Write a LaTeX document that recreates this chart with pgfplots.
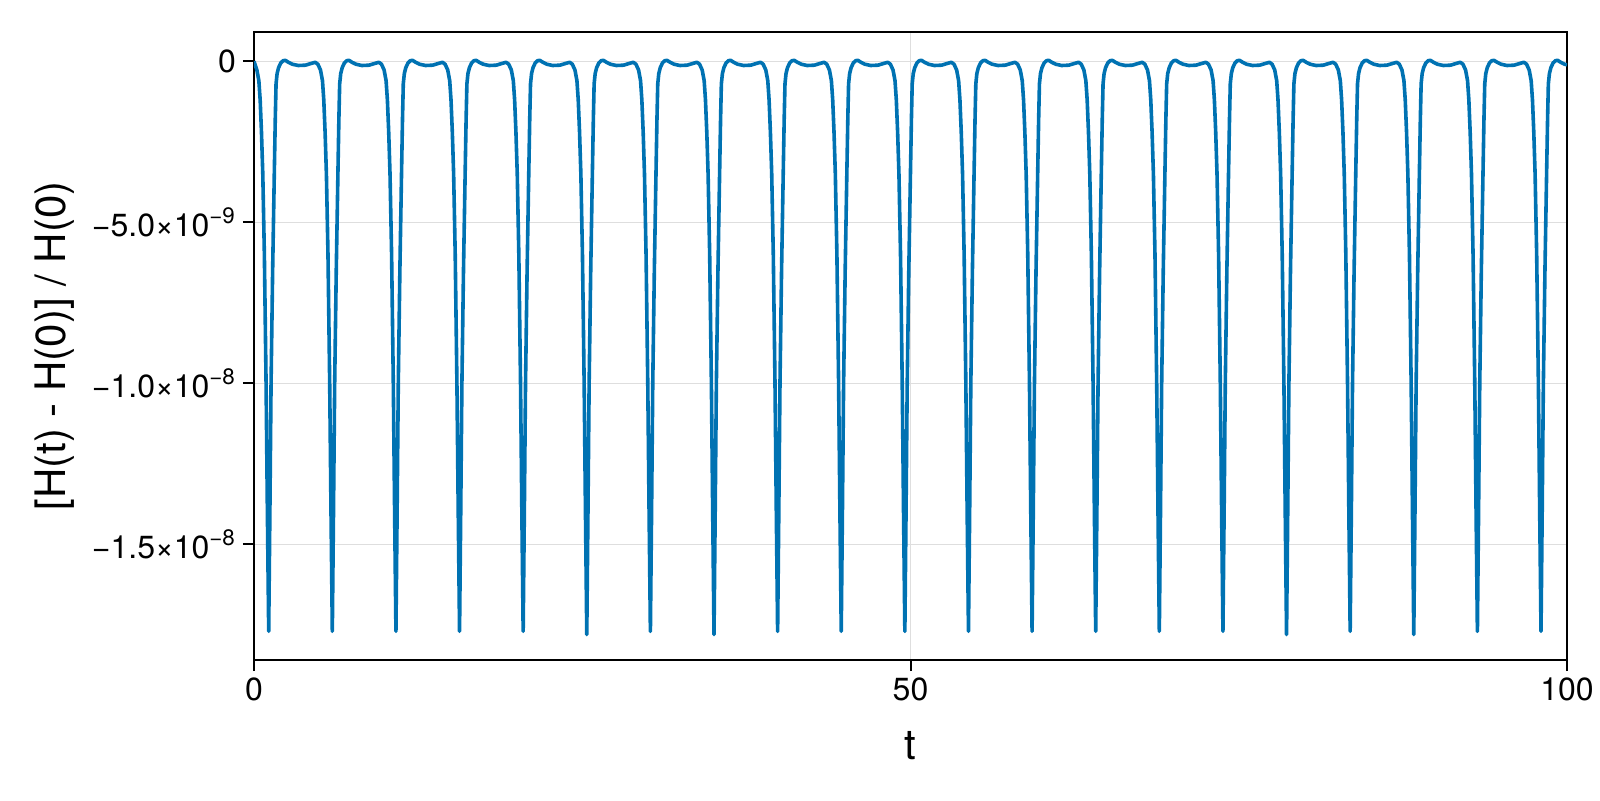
\documentclass[border=0pt]{standalone}
\usepackage{fontspec}
\setmainfont{TeX Gyre Heros}
\usepackage{pgfplots}
\pgfplotsset{compat=1.18}
\definecolor{wongblue}{RGB}{0,114,178}
\definecolor{gridc}{RGB}{222,222,222}
\begin{document}
\begin{tikzpicture}
\path[use as bounding box] (-127pt,-70pt) rectangle (673pt,330pt);
\begin{axis}[
  at={(0,0)}, anchor=south west,
  scale only axis, width=656.5pt, height=314pt,
  xmin=0, xmax=100, ymin=-18.59, ymax=0.91,
  xtick={0,50,100}, xticklabels={0,50,100},
  ytick={-15,-10,-5,0},
  yticklabels={−1.5×10\textsuperscript{−8},−1.0×10\textsuperscript{−8},−5.0×10\textsuperscript{−9},0},
  tick pos=left, tick align=outside,
  major tick length=5.5pt,
  tick style={black, line width=1pt},
  axis line style={black, line width=1pt},
  grid=major, major grid style={gridc, line width=0.6pt},
  tick label style={font=\fontsize{16}{19}\selectfont},
  xlabel={t}, ylabel={[H(t) - H(0)] / H(0)},
  xlabel style={at={(axis description cs:0.5,0)}, anchor=center, yshift=-43pt, font=\fontsize{21}{25}\selectfont},
  ylabel style={at={(axis description cs:-0.1516,0.5)}, anchor=center, font=\fontsize{21}{25}\selectfont},
]
\addplot[wongblue, line width=1.8pt, line join=round] table {
x y
0 0
0.22 -0.27
0.37 -0.6
0.47 -1.2
0.57 -2.2
0.67 -3.5
0.79 -6.0
0.92 -10
1.02 -14
1.12 -17.7
1.21 -14
1.30 -10
1.42 -6.5
1.55 -3.4
1.62 -1.8
1.68 -0.7
1.76 -0.38
1.87 -0.2
2.04 -0.05
2.22 0.02
2.39 0.03
2.62 -0.03
2.92 -0.09
3.37 -0.13
3.92 -0.12
4.32 -0.07
4.665 -0.03
4.865 -0.09
5.065 -0.27
5.215 -0.6
5.315 -1.2
5.415 -2.2
5.515 -3.5
5.635 -6.0
5.765 -10
5.865 -14
5.965 -17.7
6.055 -14
6.145 -10
6.265 -6.5
6.395 -3.4
6.465 -1.8
6.525 -0.7
6.605 -0.38
6.715 -0.2
6.885 -0.05
7.065 0.02
7.235 0.03
7.465 -0.03
7.765 -0.09
8.215 -0.13
8.765 -0.12
9.165 -0.07
9.51 -0.03
9.71 -0.09
9.91 -0.27
10.06 -0.6
10.16 -1.2
10.26 -2.2
10.36 -3.5
10.48 -6.0
10.61 -10
10.71 -14
10.81 -17.7
10.90 -14
10.99 -10
11.11 -6.5
11.24 -3.4
11.31 -1.8
11.37 -0.7
11.45 -0.38
11.56 -0.2
11.73 -0.05
11.91 0.02
12.08 0.03
12.31 -0.03
12.61 -0.09
13.06 -0.13
13.61 -0.12
14.01 -0.07
14.355 -0.03
14.555 -0.09
14.755 -0.27
14.905 -0.6
15.005 -1.2
15.105 -2.2
15.205 -3.5
15.325 -6.0
15.455 -10
15.555 -14
15.655 -17.7
15.745 -14
15.835 -10
15.955 -6.5
16.085 -3.4
16.155 -1.8
16.215 -0.7
16.295 -0.38
16.405 -0.2
16.575 -0.05
16.755 0.02
16.925 0.03
17.155 -0.03
17.455 -0.09
17.905 -0.13
18.455 -0.12
18.855 -0.07
19.2 -0.03
19.4 -0.09
19.6 -0.27
19.75 -0.6
19.85 -1.2
19.95 -2.2
20.05 -3.5
20.17 -6.0
20.3 -10
20.4 -14
20.5 -17.7
20.59 -14
20.68 -10
20.8 -6.5
20.93 -3.4
21.0 -1.8
21.06 -0.7
21.14 -0.38
21.25 -0.2
21.42 -0.05
21.6 0.02
21.77 0.03
22.0 -0.03
22.3 -0.09
22.75 -0.13
23.3 -0.12
23.7 -0.07
24.045 -0.03
24.245 -0.09
24.445 -0.27
24.595 -0.6
24.695 -1.2
24.795 -2.2
24.895 -3.5
25.015 -6.0
25.145 -10
25.245 -14
25.345 -17.8
25.435 -14
25.525 -10
25.645 -6.5
25.775 -3.4
25.845 -1.8
25.905 -0.7
25.985 -0.38
26.095 -0.2
26.265 -0.05
26.445 0.02
26.615 0.03
26.845 -0.03
27.145 -0.09
27.595 -0.13
28.145 -0.12
28.545 -0.07
28.89 -0.03
29.09 -0.09
29.29 -0.27
29.44 -0.6
29.54 -1.2
29.64 -2.2
29.74 -3.5
29.86 -6.0
29.99 -10
30.09 -14
30.19 -17.7
30.28 -14
30.37 -10
30.49 -6.5
30.62 -3.4
30.69 -1.8
30.75 -0.7
30.83 -0.38
30.94 -0.2
31.11 -0.05
31.29 0.02
31.46 0.03
31.69 -0.03
31.99 -0.09
32.44 -0.13
32.99 -0.12
33.39 -0.07
33.735 -0.03
33.935 -0.09
34.135 -0.27
34.285 -0.6
34.385 -1.2
34.485 -2.2
34.585 -3.5
34.705 -6.0
34.835 -10
34.935 -14
35.035 -17.8
35.125 -14
35.215 -10
35.335 -6.5
35.465 -3.4
35.535 -1.8
35.595 -0.7
35.675 -0.38
35.785 -0.2
35.955 -0.05
36.135 0.02
36.305 0.03
36.535 -0.03
36.835 -0.09
37.285 -0.13
37.835 -0.12
38.235 -0.07
38.58 -0.03
38.78 -0.09
38.98 -0.27
39.13 -0.6
39.23 -1.2
39.33 -2.2
39.43 -3.5
39.55 -6.0
39.68 -10
39.78 -14
39.88 -17.7
39.97 -14
40.06 -10
40.18 -6.5
40.31 -3.4
40.38 -1.8
40.44 -0.7
40.52 -0.38
40.63 -0.2
40.8 -0.05
40.98 0.02
41.15 0.03
41.38 -0.03
41.68 -0.09
42.13 -0.13
42.68 -0.12
43.08 -0.07
43.425 -0.03
43.625 -0.09
43.825 -0.27
43.975 -0.6
44.075 -1.2
44.175 -2.2
44.275 -3.5
44.395 -6.0
44.525 -10
44.625 -14
44.725 -17.7
44.815 -14
44.905 -10
45.025 -6.5
45.155 -3.4
45.225 -1.8
45.285 -0.7
45.365 -0.38
45.475 -0.2
45.645 -0.05
45.825 0.02
45.995 0.03
46.225 -0.03
46.525 -0.09
46.975 -0.13
47.525 -0.12
47.925 -0.07
48.27 -0.03
48.47 -0.09
48.67 -0.27
48.82 -0.6
48.92 -1.2
49.02 -2.2
49.12 -3.5
49.24 -6.0
49.37 -10
49.47 -14
49.57 -17.7
49.66 -14
49.75 -10
49.87 -6.5
50.0 -3.4
50.07 -1.8
50.13 -0.7
50.21 -0.38
50.32 -0.2
50.49 -0.05
50.67 0.02
50.84 0.03
51.07 -0.03
51.37 -0.09
51.82 -0.13
52.37 -0.12
52.77 -0.07
53.115 -0.03
53.315 -0.09
53.515 -0.27
53.665 -0.6
53.765 -1.2
53.865 -2.2
53.965 -3.5
54.085 -6.0
54.215 -10
54.315 -14
54.415 -17.7
54.505 -14
54.595 -10
54.715 -6.5
54.845 -3.4
54.915 -1.8
54.975 -0.7
55.055 -0.38
55.165 -0.2
55.335 -0.05
55.515 0.02
55.685 0.03
55.915 -0.03
56.215 -0.09
56.665 -0.13
57.215 -0.12
57.615 -0.07
57.96 -0.03
58.16 -0.09
58.36 -0.27
58.51 -0.6
58.61 -1.2
58.71 -2.2
58.81 -3.5
58.93 -6.0
59.06 -10
59.16 -14
59.26 -17.7
59.35 -14
59.44 -10
59.56 -6.5
59.69 -3.4
59.76 -1.8
59.82 -0.7
59.90 -0.38
60.01 -0.2
60.18 -0.05
60.36 0.02
60.53 0.03
60.76 -0.03
61.06 -0.09
61.51 -0.13
62.06 -0.12
62.46 -0.07
62.805 -0.03
63.005 -0.09
63.205 -0.27
63.355 -0.6
63.455 -1.2
63.555 -2.2
63.655 -3.5
63.775 -6.0
63.905 -10
64.005 -14
64.105 -17.7
64.195 -14
64.285 -10
64.405 -6.5
64.535 -3.4
64.605 -1.8
64.665 -0.7
64.745 -0.38
64.855 -0.2
65.025 -0.05
65.205 0.02
65.375 0.03
65.605 -0.03
65.905 -0.09
66.355 -0.13
66.905 -0.12
67.305 -0.07
67.65 -0.03
67.85 -0.09
68.05 -0.27
68.2 -0.6
68.3 -1.2
68.4 -2.2
68.5 -3.5
68.62 -6.0
68.75 -10
68.85 -14
68.95 -17.7
69.04 -14
69.13 -10
69.25 -6.5
69.38 -3.4
69.45 -1.8
69.51 -0.7
69.59 -0.38
69.7 -0.2
69.87 -0.05
70.05 0.02
70.22 0.03
70.45 -0.03
70.75 -0.09
71.2 -0.13
71.75 -0.12
72.15 -0.07
72.495 -0.03
72.695 -0.09
72.895 -0.27
73.045 -0.6
73.145 -1.2
73.245 -2.2
73.345 -3.5
73.465 -6.0
73.595 -10
73.695 -14
73.795 -17.7
73.885 -14
73.975 -10
74.095 -6.5
74.225 -3.4
74.295 -1.8
74.355 -0.7
74.435 -0.38
74.545 -0.2
74.715 -0.05
74.895 0.02
75.065 0.03
75.295 -0.03
75.595 -0.09
76.045 -0.13
76.595 -0.12
76.995 -0.07
77.34 -0.03
77.54 -0.09
77.74 -0.27
77.89 -0.6
77.99 -1.2
78.09 -2.2
78.19 -3.5
78.31 -6.0
78.44 -10
78.54 -14
78.64 -17.8
78.73 -14
78.82 -10
78.94 -6.5
79.07 -3.4
79.14 -1.8
79.2 -0.7
79.28 -0.38
79.39 -0.2
79.56 -0.05
79.74 0.02
79.91 0.03
80.14 -0.03
80.44 -0.09
80.89 -0.13
81.44 -0.12
81.84 -0.07
82.185 -0.03
82.385 -0.09
82.585 -0.27
82.735 -0.6
82.835 -1.2
82.935 -2.2
83.035 -3.5
83.155 -6.0
83.285 -10
83.385 -14
83.485 -17.7
83.575 -14
83.665 -10
83.785 -6.5
83.915 -3.4
83.985 -1.8
84.045 -0.7
84.125 -0.38
84.235 -0.2
84.405 -0.05
84.585 0.02
84.755 0.03
84.985 -0.03
85.285 -0.09
85.735 -0.13
86.285 -0.12
86.685 -0.07
87.03 -0.03
87.23 -0.09
87.43 -0.27
87.58 -0.6
87.68 -1.2
87.78 -2.2
87.88 -3.5
88.0 -6.0
88.13 -10
88.23 -14
88.33 -17.8
88.42 -14
88.51 -10
88.63 -6.5
88.76 -3.4
88.83 -1.8
88.89 -0.7
88.97 -0.38
89.08 -0.2
89.25 -0.05
89.43 0.02
89.6 0.03
89.83 -0.03
90.13 -0.09
90.58 -0.13
91.13 -0.12
91.53 -0.07
91.875 -0.03
92.075 -0.09
92.275 -0.27
92.425 -0.6
92.525 -1.2
92.625 -2.2
92.725 -3.5
92.845 -6.0
92.975 -10
93.075 -14
93.175 -17.7
93.265 -14
93.355 -10
93.475 -6.5
93.605 -3.4
93.675 -1.8
93.735 -0.7
93.815 -0.38
93.925 -0.2
94.095 -0.05
94.275 0.02
94.445 0.03
94.675 -0.03
94.975 -0.09
95.425 -0.13
95.975 -0.12
96.375 -0.07
96.72 -0.03
96.92 -0.09
97.12 -0.27
97.27 -0.6
97.37 -1.2
97.47 -2.2
97.57 -3.5
97.69 -6.0
97.82 -10
97.92 -14
98.02 -17.7
98.11 -14
98.2 -10
98.32 -6.5
98.45 -3.4
98.52 -1.8
98.58 -0.7
98.66 -0.38
98.77 -0.2
98.94 -0.05
99.12 0.02
99.29 0.03
99.52 -0.03
99.82 -0.09
100 -0.11
};
\end{axis}
\end{tikzpicture}
\end{document}
